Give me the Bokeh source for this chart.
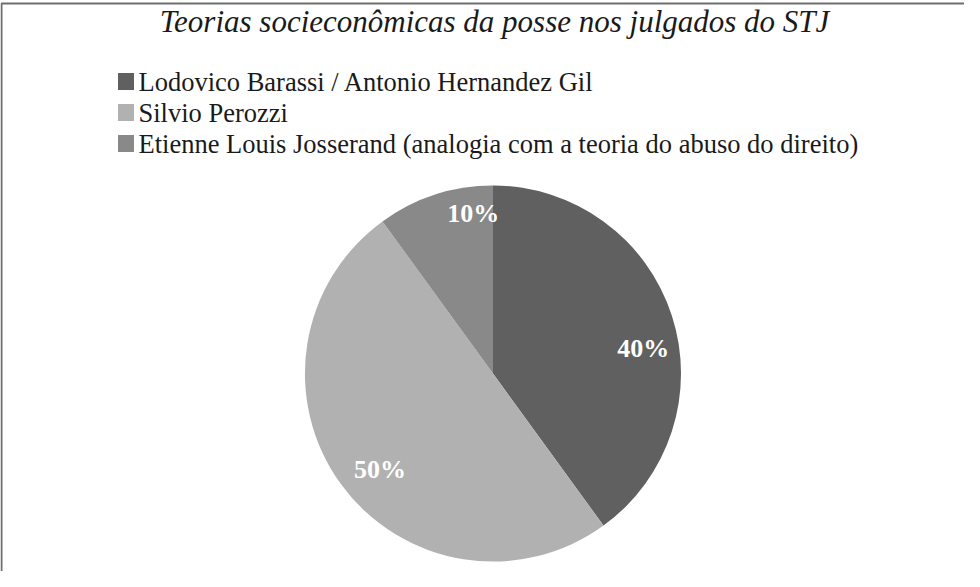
from math import pi, cos, sin
from bokeh.plotting import figure
from bokeh.models import Range1d, ColumnDataSource
from bokeh.core.properties import value
from bokeh.embed import file_html
from bokeh.resources import INLINE

title = "Teorias socieconômicas da posse nos julgados do STJ"
categories = [
    "Lodovico Barassi / Antonio Hernandez Gil",
    "Silvio Perozzi",
    "Etienne Louis Josserand (analogia com a teoria do abuso do direito)",
]
shares = [40, 50, 10]
labels = ["40%", "50%", "10%"]
colors = ["#606060", "#b1b1b1", "#898989"]

# label placement style: (angle nudge in degrees, radius fraction)
label_style = [(-8.6, 0.81), (4.5, 0.79), (-11.0, 0.86)]

SERIF = "Liberation Serif"

W, H = 964, 571
p = figure(width=W, height=H, output_backend="svg", toolbar_location=None,
           x_range=Range1d(0, W), y_range=Range1d(0, H), min_border=0)
p.axis.visible = False
p.grid.visible = False
p.outline_line_color = None
p.background_fill_color = "white"
p.border_fill_color = "white"

def py(y):  # page pixel y -> data y
    return H - (y - 8)

def px(x):
    return x - 8

# frame (left and top edges only)
p.line([px(9), px(9), W], [0, py(11), py(11)], line_color="#6e6e6e", line_width=2)

# title
p.text([px(502)], [py(29)], text=[title], text_font=value(SERIF),
       text_font_style="italic", text_font_size="31px", text_align="center",
       text_baseline="middle", text_color="#1a1a1a")

# legend
row_mid = [89, 120, 151]
p.rect([px(133.5)] * 3, [py(y) for y in row_mid], width=16, height=17,
       fill_color=colors, line_color=None)
p.text([px(146)] * 3, [py(y) for y in row_mid], text=categories,
       text_font=value(SERIF), text_font_size="26.5px",
       text_baseline="middle", text_color="#1a1a1a")

# pie
cx, cy, r = px(500.5), py(381), 188
total = sum(shares)
starts, ends, lx, ly = [], [], [], []
a = pi / 2
for s, (nudge, frac) in zip(shares, label_style):
    sweep = 2 * pi * s / total
    starts.append(a - sweep)
    ends.append(a)
    mid = a - sweep / 2 + nudge * pi / 180
    lx.append(cx + frac * r * cos(mid))
    ly.append(cy + frac * r * sin(mid))
    a -= sweep

src = ColumnDataSource(dict(start=starts, end=ends, color=colors))
p.wedge(x=cx, y=cy, radius=r, start_angle="start", end_angle="end",
        fill_color="color", line_color=None, source=src)
p.text(lx, ly, text=labels, text_font=value(SERIF),
       text_font_style="bold", text_font_size="26px", text_align="center",
       text_baseline="middle", text_color="white")

open("out.html", "w").write(file_html(p, INLINE))
